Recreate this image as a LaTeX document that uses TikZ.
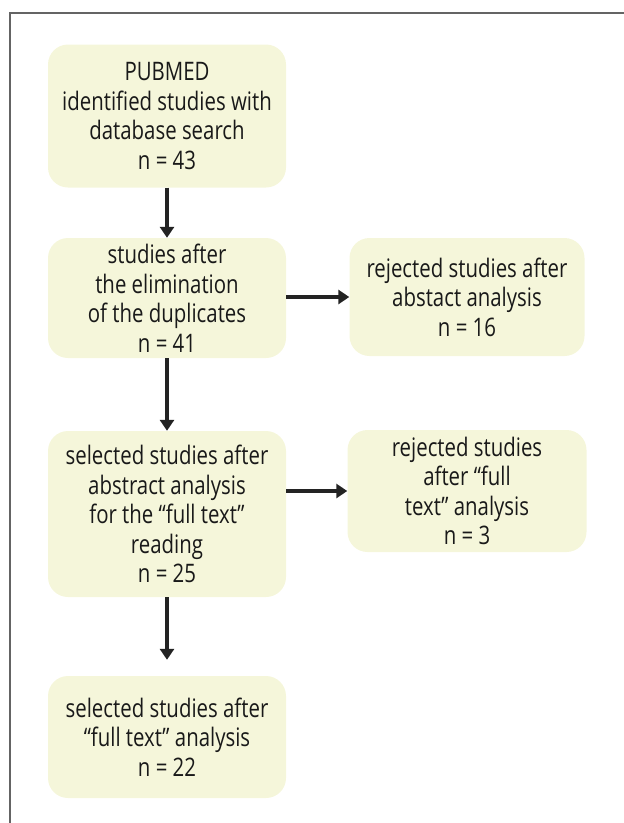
\documentclass[tikz,border=0pt]{standalone}
\usepackage{fontspec}
\setmainfont{Open Sans}[FakeStretch=0.8]
\usetikzlibrary{arrows.meta}

\definecolor{boxfill}{RGB}{245,246,218}
\definecolor{arrowgray}{RGB}{35,35,35}
\definecolor{framegray}{RGB}{100,100,100}

\tikzset{
  flowbox/.style={fill=boxfill, rounded corners=20pt, minimum width=238pt,
    align=center, inner sep=0pt, text=black!90,
    font=\fontsize{25.5}{29.5}\selectfont},
  flowarrow/.style={draw=arrowgray, line width=4pt,
    -{Triangle[length=11pt, width=14pt]}},
}

\begin{document}
\begin{tikzpicture}[x=1pt, y=-1pt]
    \useasboundingbox (0,0) rectangle (624,823);

    % Frame
    \draw[framegray, line width=2pt] (10,823) -- (10,13) -- (624,13);

    % Left column
    \node[flowbox, minimum height=143pt] (pubmed) at (167,116)
        {PUBMED\\identified studies with\\database search\\n = 43};
    \node[flowbox, minimum height=120pt] (dedup) at (167,298)
        {studies after\\the elimination\\of the duplicates\\n = 41};
    \node[flowbox, minimum height=166pt] (selabs) at (167,514)
        {selected studies after\\abstract analysis\\for the “full text”\\reading\\n = 25};
    \node[flowbox, minimum height=122pt] (selfull) at (167,737)
        {selected studies after\\“full text” analysis\\n = 22};

    % Right column
    \node[flowbox, minimum width=235pt, minimum height=118pt] (rejabs) at (467,297)
        {rejected studies after\\abstact analysis\\n = 16};
    \node[flowbox, minimum width=239pt, minimum height=122pt] (rejfull) at (467,491)
        {rejected studies\\after “full\\text” analysis\\n = 3};

    % Arrows
    \draw[flowarrow] (pubmed) -- (dedup);
    \draw[flowarrow] (dedup) -- (selabs);
    \draw[flowarrow, shorten >=16pt] (selabs) -- (selfull);
    \draw[flowarrow] (dedup.east |- rejabs.west) -- (rejabs.west);
    \draw[flowarrow] (selabs.east |- rejfull.west) -- (rejfull.west);
\end{tikzpicture}
\end{document}
